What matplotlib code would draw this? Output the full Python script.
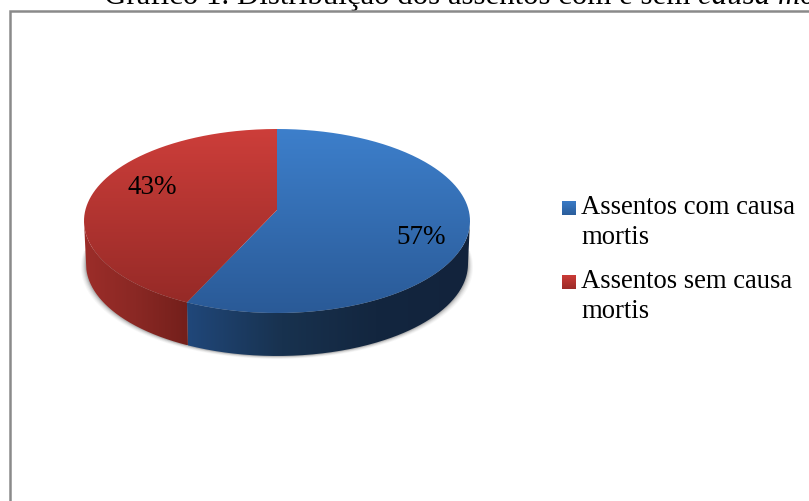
import numpy as np
import matplotlib
matplotlib.use("Agg")
import matplotlib.pyplot as plt
from matplotlib.patches import PathPatch, Polygon
from matplotlib.path import Path
from matplotlib.colors import LinearSegmentedColormap as LSC

categories = ["Assentos com causa\nmortis", "Assentos sem causa\nmortis"]
shares = [57, 43]
title_plain = "Gráfico 1. Distribuição dos assentos com e sem "
title_italic = "causa mortis"

plt.rcParams["font.family"] = ["Liberation Serif", "DejaVu Serif"]
fig = plt.figure(figsize=(8.09, 5.01), dpi=100)
ax = fig.add_axes([0, 0, 1, 1])
ax.set_xlim(0, 809); ax.set_ylim(501, 0); ax.axis("off")

cx, cy, rx, ry, depth, taper = 277, 221, 193, 92, 43, 2
apex = (277, 210)
view_offset = 2.6

def pt(a, dy=0, dr=0):
    a = np.radians(a)
    return np.column_stack([cx + (rx-dr)*np.sin(a), cy - ry*np.cos(a) + dy])

def grad(poly, colors, horizontal, z):
    lo, hi = poly.min(axis=0), poly.max(axis=0)
    g = np.linspace(0, 1, 256)
    g = g[None, :] if horizontal else g[:, None]
    cmap = LSC.from_list("g", colors)
    im = ax.imshow(g, cmap=cmap, extent=(lo[0], hi[0], hi[1], lo[1]),
                   aspect="auto", zorder=z, vmin=0, vmax=1)
    p = PathPatch(Path(np.vstack([poly, poly[:1]])), fc="none", ec="none", transform=ax.transData)
    ax.add_patch(p)
    im.set_clip_path(p)

# soft shadow under the body
for grow, al in [(5, .04), (4, .06), (3, .08), (2, .12), (1, .18)]:
    a = np.linspace(80, 280, 200)
    e = np.column_stack([cx + (rx-taper+grow)*np.sin(np.radians(a)),
                         cy + depth + grow*.6 - ry*np.cos(np.radians(a))])
    ax.add_patch(Polygon(e, fc="#444444", ec="none", alpha=al, zorder=1))

total = sum(shares)
cut = shares[0]/total*360 + view_offset

def wall(a0, a1, colors):
    a = np.linspace(a0, a1, 200)
    poly = np.vstack([pt(a), pt(a[::-1], depth, taper)])
    grad(poly, colors, True, 2)

wall(90, cut, ["#20477a", "#18324f", "#13263f", "#12233c"])
wall(cut, 270, ["#9c2d29", "#8a2824", "#731f1b"])

a = np.linspace(0, cut, 300)
grad(np.vstack([[apex], pt(a)]), ["#3d7fcb", "#2a5a97"], False, 3)
a = np.linspace(cut, 360, 300)
grad(np.vstack([[apex], pt(a)]), ["#cd3e3a", "#962a27"], False, 3)

ax.text(421, 237, f"{shares[0]}%", fontsize=19.5, ha="center", va="center", color="black", zorder=5)
ax.text(152, 187, f"{shares[1]}%", fontsize=19.5, ha="center", va="center", color="black", zorder=5)

for name, top, y0 in zip(categories, (("#3a7bc6", "#2b5d9b"), ("#cb3b37", "#9b2b28")), (201, 275)):
    sw = np.array([[562, y0], [576, y0], [576, y0+14], [562, y0+14]], float)
    grad(sw, top, False, 4)
    ax.text(581, y0+13, name.split("\n")[0], fontsize=19.2, va="baseline", ha="left", color="black", zorder=5)
    ax.text(581, y0+43.5, name.split("\n")[1], fontsize=19.2, va="baseline", ha="left", color="black", zorder=5)

ax.plot([9.7, 9.7, 830], [510, 11, 11], color="#8a8a8a", lw=1.8, zorder=6, solid_joinstyle="miter")

t = ax.text(104, 3.5, title_plain, fontsize=22.2, va="baseline", ha="left", color="black")
fig.canvas.draw()
x1 = ax.transData.inverted().transform((t.get_window_extent().x1, 0))[0]
ax.text(x1, 3.5, title_italic, fontsize=22.2, style="italic", va="baseline", ha="left", color="black")

ax.set_xlim(0, 809); ax.set_ylim(501, 0)
fig.savefig("out.png", dpi=100, facecolor="white")
